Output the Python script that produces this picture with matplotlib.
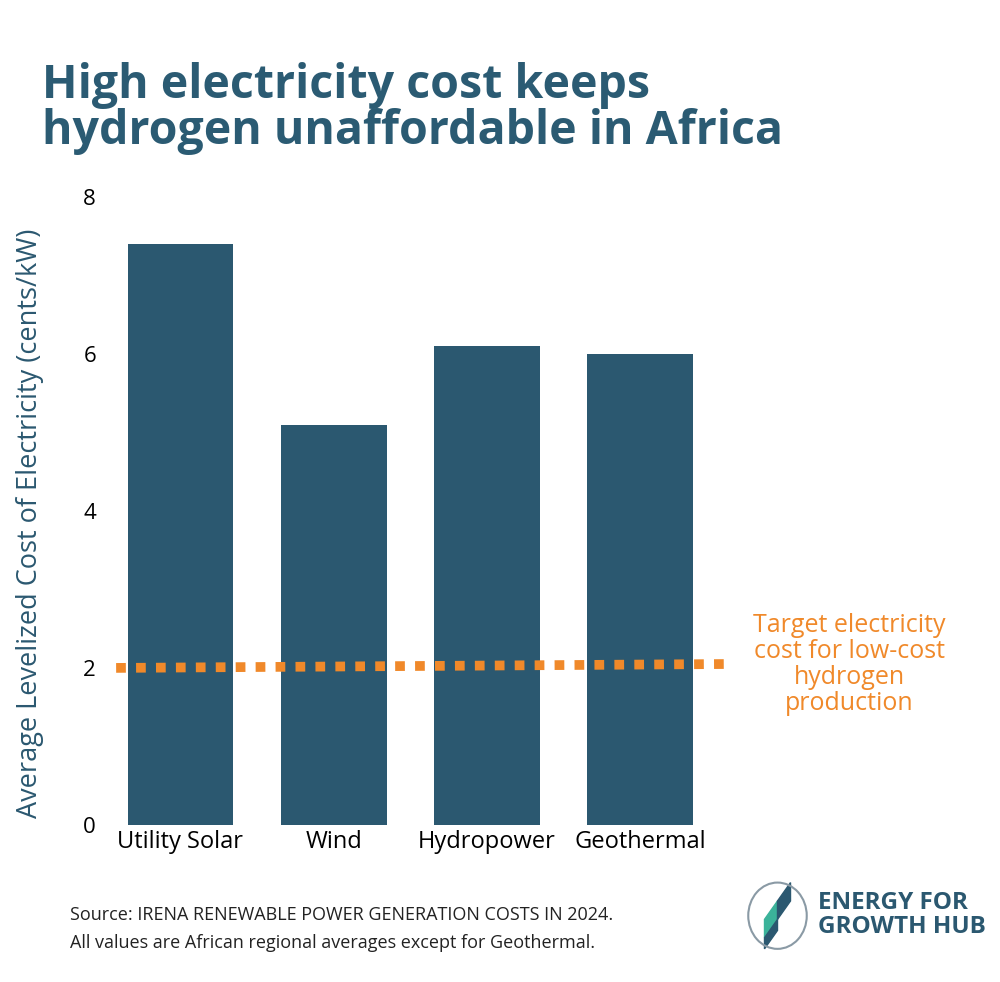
import matplotlib
matplotlib.use("Agg")
import matplotlib.pyplot as plt
from matplotlib.patches import Polygon

categories = ["Utility Solar", "Wind", "Hydropower", "Geothermal"]
values = [7.4, 5.1, 6.1, 6.0]
target = 2.0
yticks = [0, 2, 4, 6, 8]

BAR = "#2b5870"
ORANGE = "#f0892a"
plt.rcParams['font.family'] = ['Open Sans', 'DejaVu Sans']

fig = plt.figure(figsize=(10, 9.82), dpi=100)
ax = fig.add_axes([0.11, 0.16, 0.625, 0.6394])
x = range(len(categories))
ax.bar(x, values, width=0.69, color=BAR)
ax.plot([-0.42, 3.6], [target, target + 0.05], color=ORANGE, lw=7, linestyle=(0, (1, 1.05)))
ax.set_xlim(-0.46, 3.62)
ax.set_ylim(0, 8)
ax.set_yticks(yticks)
ax.set_xticks(list(x))
ax.set_xticklabels(categories, fontsize=17)
ax.tick_params(axis='y', labelsize=16, length=0, pad=10)
ax.tick_params(axis='x', length=0, pad=4)
for s in ax.spines.values():
    s.set_visible(False)
ax.set_ylabel("Average Levelized Cost of Electricity (cents/kW)", fontsize=19.5, color=BAR)
ax.yaxis.set_label_coords(-0.105, 0.48)

fig.text(0.042, 0.913, "High electricity cost keeps", fontsize=33.5, fontweight='bold', color="#2b5b73", va='center')
fig.text(0.042, 0.866, "hydrogen unaffordable in Africa", fontsize=33.5, fontweight='bold', color="#2b5b73", va='center')
fig.text(0.849, 0.323, "Target electricity\ncost for low-cost\nhydrogen\nproduction", fontsize=18, color=ORANGE,
         ha='center', va='center', linespacing=1.05)
fig.text(0.07, 0.054, "Source: IRENA RENEWABLE POWER GENERATION COSTS IN 2024.\nAll values are African regional averages except for Geothermal.",
         fontsize=13, color="#222222", va='center', linespacing=1.7)
fig.text(0.818, 0.068, "ENERGY FOR\nGROWTH HUB", fontsize=17.5, fontweight='bold', color="#2b5870",
         va='center', linespacing=1.0)
lax = fig.add_axes([0.745, 0.03, 0.065, 0.075])
lax.set_xlim(0, 1); lax.set_ylim(0, 1); lax.axis('off')
lax.add_patch(Polygon([[0.3, 0.2], [0.5, 0.45], [0.5, 0.7], [0.3, 0.45]], color="#3bb39a"))
lax.add_patch(Polygon([[0.5, 0.45], [0.7, 0.7], [0.7, 0.95], [0.5, 0.7]], color=BAR))
lax.add_patch(Polygon([[0.3, 0.05], [0.5, 0.3], [0.5, 0.45], [0.3, 0.2]], color=BAR))
lax.add_patch(plt.Circle((0.5, 0.5), 0.45, fill=False, color="#8a9aa5", lw=1.5))
fig.savefig("out.png", dpi=100, facecolor="white")
